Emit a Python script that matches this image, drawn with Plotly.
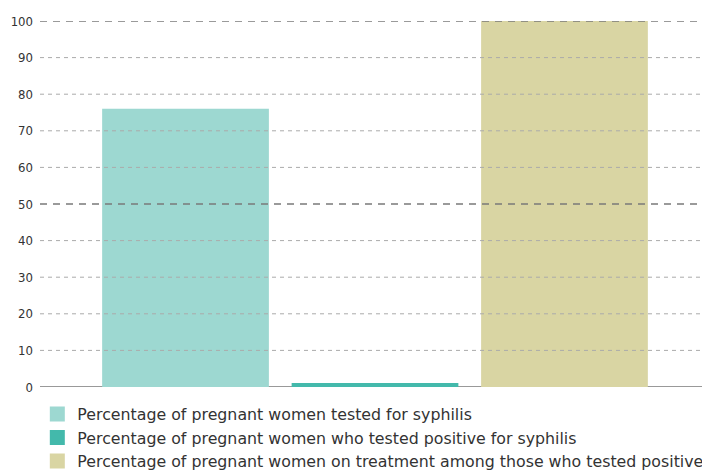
import plotly.graph_objects as go

series_names = [
    "Percentage of pregnant women tested for syphilis",
    "Percentage of pregnant women who tested positive for syphilis",
    "Percentage of pregnant women on treatment among those who tested positive",
]
series_values = [76, 1.1, 100]
series_colors = ["#9dd8d1", "#43b9ab", "#d9d5a3"]
y_ticks = [0, 10, 20, 30, 40, 50, 60, 70, 80, 90, 100]
major_ticks = [50, 100]

fig = go.Figure()
for i, (name, val, col) in enumerate(zip(series_names, series_values, series_colors)):
    fig.add_trace(go.Bar(
        x=[i], y=[val], name=name, width=0.88,
        marker=dict(color=col, line=dict(width=0)),
        hoverinfo="skip", showlegend=False, legendgroup=name,
    ))
# legend entries with larger square swatches
for name, col in zip(series_names, series_colors):
    fig.add_trace(go.Scatter(
        x=[None], y=[None], mode="markers", name=name, legendgroup=name,
        marker=dict(symbol="square", size=15, color=col, line=dict(width=0)),
        hoverinfo="skip",
    ))

shapes = []
for t in y_ticks:
    if t == 0:
        continue
    major = t in major_ticks
    shapes.append(dict(
        type="line", xref="paper", x0=0, x1=1, yref="y", y0=t, y1=t,
        layer="above",
        line=dict(color="#7a7a7a" if major else "#aaaaaa", width=1.5 if major else 1,
                  dash="7px,6px" if major else "4px,4px"),
    ))
shapes.append(dict(
    type="line", xref="paper", x0=0, x1=1, yref="y", y0=0, y1=0,
    layer="below", line=dict(color="#777777", width=1.5),
))

fig.update_layout(
    width=702, height=462,
    margin=dict(l=32, r=0, t=13, b=83, autoexpand=False),
    paper_bgcolor="white", plot_bgcolor="white",
    barmode="overlay",
    showlegend=True,
    font=dict(family="DejaVu Sans", color="#333333"),
    xaxis=dict(range=[-0.768, 2.768], visible=False, fixedrange=True),
    yaxis=dict(range=[0, 100], tickvals=y_ticks, showgrid=False, zeroline=False,
               showline=False, ticks="", ticklabelstandoff=6,
               tickfont=dict(size=13, family="DejaVu Sans Condensed, DejaVu Sans", color="#333333")),
    legend=dict(orientation="v", x=-0.004, xanchor="left", y=-0.028, yanchor="top",
                font=dict(size=15.8, family="DejaVu Sans", color="#333333"), tracegroupgap=0,
                itemwidth=30, itemsizing="trace", bgcolor="rgba(0,0,0,0)"),
    shapes=shapes,
)

fig.write_html("out.html")
